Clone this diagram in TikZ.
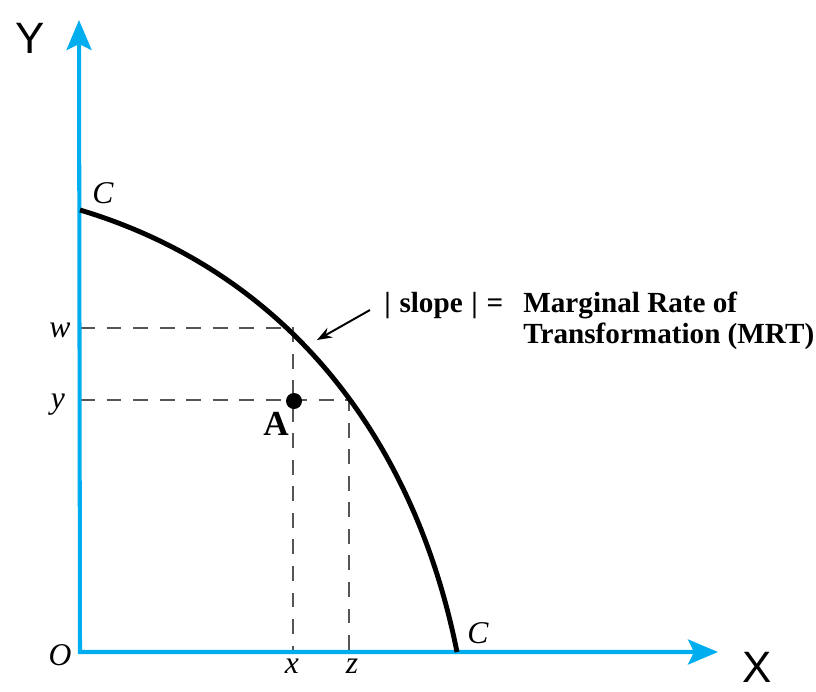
\documentclass[tikz,border=0pt]{standalone}
\usepackage{fontspec}
\setmainfont{Liberation Serif}
\setsansfont{Liberation Sans}
\usetikzlibrary{arrows.meta}
\definecolor{axisblue}{RGB}{0,174,239}
\definecolor{dashgray}{RGB}{85,85,85}
\begin{document}
\begin{tikzpicture}[x=0.02cm,y=-0.02cm,
  axis/.style={draw=axisblue,line width=2.3pt,line join=miter,
    {Stealth[length=0.6cm,width=0.5cm,inset=0.12cm]}-{Stealth[length=0.6cm,width=0.5cm,inset=0.12cm]}},
  curve/.style={draw=black,line width=2.8pt},
  guide/.style={draw=dashgray,line width=1.5pt,dash pattern=on 8.5pt off 6.6pt},
  ilab/.style={font=\itshape\fontsize{18}{20}\selectfont,inner sep=0pt},
  axlab/.style={font=\sffamily\fontsize{25}{28}\selectfont,inner sep=0pt},
  btext/.style={font=\bfseries\fontsize{16.6}{19}\selectfont,inner sep=0pt}]
\useasboundingbox (0,0) rectangle (816,691);
\coordinate (O) at (80,652);
\coordinate (ytip) at (79,20);
\coordinate (xtip) at (718,652);
\coordinate (c1) at (80,210);
\coordinate (c2) at (457,652);
\coordinate (wy) at (80,328);
\coordinate (yy) at (80,400);
\coordinate (pw) at (293,328);
\coordinate (pz) at (349,400);
\coordinate (xx) at (293,652);
\coordinate (zz) at (349,652);
\coordinate (arrS) at (370,310);
\coordinate (arrE) at (317,340);
% guides
\draw[guide] (wy) -- (pw) -- (xx);
\draw[guide] (yy) -- (pz) -- (zz);
% axes
\draw[axis] (ytip) -- (O) -- (xtip);
% curve
\draw[curve] (c1) .. controls (290,273) and (415,442) .. (c2);
% point A
\fill (294,401) circle (8);
\node[font=\bfseries\fontsize{20}{22}\selectfont,inner sep=0pt] (A) at (276,424) {A};
% labels
\node[axlab] (Ylab) at (30,38) {Y};
\node[axlab] (Xlab) at (757,667) {X};
\node[ilab] (C1) at (103,193) {C};
\node[ilab] (C2) at (478,633) {C};
\node[ilab] (Olab) at (60,655) {O};
\node[ilab] (wlab) at (60,330) {w};
\node[ilab] (ylab) at (58,405) {y};
\node[ilab] (xlab) at (292,666) {x};
\node[ilab] (zlab) at (352,666) {z};
\node[btext,anchor=base west] (slope) at (384,312) {|\hspace{0.3em}slope\hspace{0.3em}|\hspace{0.3em}=};
\node[btext,anchor=base west,align=left] (mrt1) at (523,312) {Marginal Rate of};
\node[btext,anchor=base west,align=left] (mrt2) at (523,343) {Transformation (MRT)};
\draw[line width=1.1pt,-{Stealth[length=0.3cm,width=0.22cm]}] (arrS) -- (arrE);
\end{tikzpicture}
\end{document}
